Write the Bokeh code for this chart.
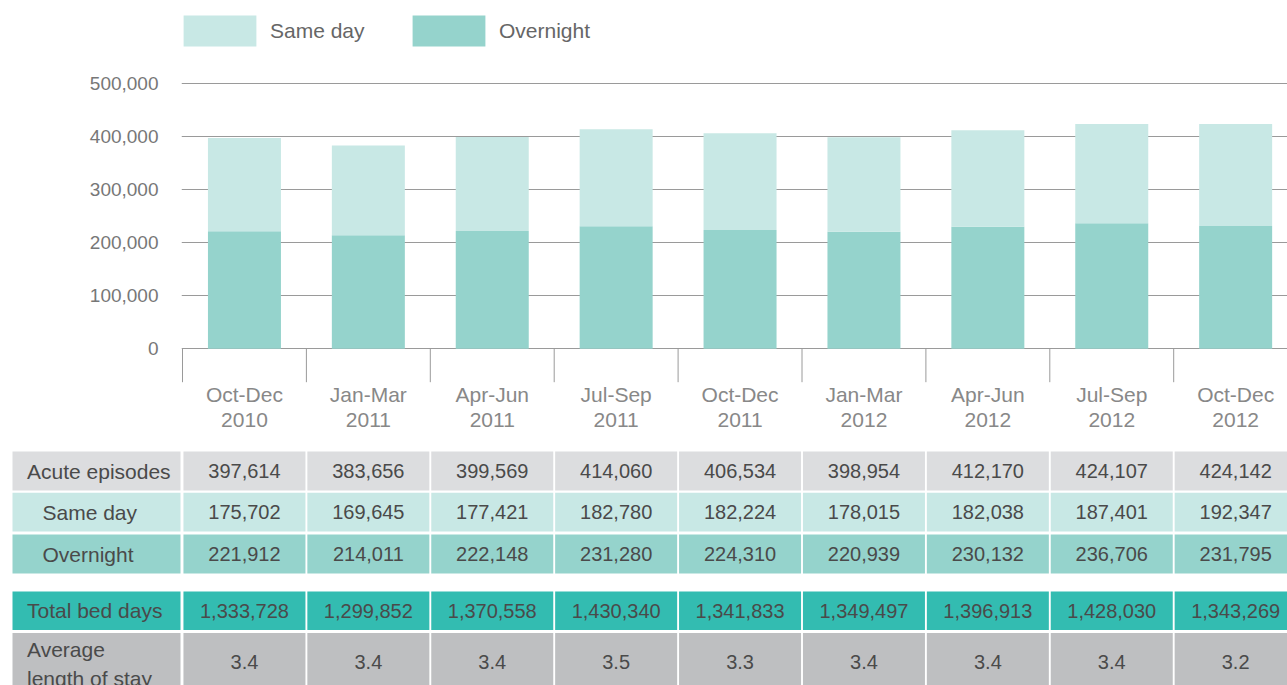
from bokeh.plotting import figure
from bokeh.models import Range1d, FixedTicker, NumeralTickFormatter, Legend, LegendItem, ColumnDataSource
from bokeh.embed import file_html
from bokeh.resources import INLINE
from bokeh.core.properties import value

# ---------------- data ----------------
quarters = ["Oct-Dec", "Jan-Mar", "Apr-Jun", "Jul-Sep", "Oct-Dec", "Jan-Mar", "Apr-Jun", "Jul-Sep", "Oct-Dec"]
years = ["2010", "2011", "2011", "2011", "2011", "2012", "2012", "2012", "2012"]
acute_episodes = [397614, 383656, 399569, 414060, 406534, 398954, 412170, 424107, 424142]
same_day = [175702, 169645, 177421, 182780, 182224, 178015, 182038, 187401, 192347]
overnight = [221912, 214011, 222148, 231280, 224310, 220939, 230132, 236706, 231795]
total_bed_days = [1333728, 1299852, 1370558, 1430340, 1341833, 1349497, 1396913, 1428030, 1343269]
avg_length_of_stay = [3.4, 3.4, 3.4, 3.5, 3.3, 3.4, 3.4, 3.4, 3.2]
y_ticks = [0, 100000, 200000, 300000, 400000, 500000]
row_labels = ["Acute episodes", "Same day", "Overnight", "Total bed days", "Average\nlength of stay"]

# ---------------- layout constants ----------------
FONT = value("Liberation Sans")
W, CH, TH = 1287, 440, 245
FRAME_LEFT = 181
X0_PX = 182.0          # pixel of first category boundary
CAT_PX = 123.9         # pixels per category
Y0_PX = 348.3          # pixel of y = 0
PX_PER_UNIT = 265.0 / 500000.0

C_SAME = "#c8e8e5"
C_OVER = "#95d3cc"

def ydata(px):
    return (Y0_PX - px) / PX_PER_UNIT

n = len(quarters)
xs = [i + 0.5 for i in range(n)]

# ---------------- chart ----------------
p = figure(width=W, height=CH,
           x_range=Range1d((FRAME_LEFT - X0_PX) / CAT_PX, (W - X0_PX) / CAT_PX),
           y_range=Range1d(ydata(CH), ydata(0)),
           output_backend="svg", toolbar_location=None, x_axis_location=None,
           min_border_left=FRAME_LEFT, min_border_right=0, min_border_top=0, min_border_bottom=0,
           outline_line_color=None, background_fill_color="white")

p.xgrid.visible = False
p.yaxis.ticker = FixedTicker(ticks=y_ticks)
p.yaxis.formatter = NumeralTickFormatter(format="0,0")
p.yaxis.axis_line_color = None
p.yaxis.major_tick_line_color = None
p.yaxis.minor_tick_line_color = None
p.yaxis.major_label_standoff = 17
p.yaxis.major_label_text_font_size = "19px"
p.yaxis.major_label_text_color = "#777777"
p.yaxis.major_label_text_font = "Liberation Sans"
p.ygrid.ticker = FixedTicker(ticks=y_ticks)
p.ygrid.grid_line_color = "#9a9a9a"

top_total = [o + s for o, s in zip(overnight, same_day)]
src = ColumnDataSource(dict(x=xs, overnight=overnight, top=top_total))
bw = 73.0 / CAT_PX
r_over = p.vbar(x="x", width=bw, bottom=0, top="overnight", source=src,
                fill_color=C_OVER, line_color=None)
r_same = p.vbar(x="x", width=bw, bottom="overnight", top="top", source=src,
                fill_color=C_SAME, line_color=None)

# category separators
bounds = list(range(n + 1))
p.segment(x0=bounds, y0=[0] * len(bounds), x1=bounds, y1=[ydata(381.7)] * len(bounds),
          line_color="#9a9a9a", line_width=1)

# category labels
p.text(x=xs, y=[ydata(394)] * n, text=quarters, text_align="center", text_baseline="middle",
       text_font=FONT, text_font_size="21px", text_color="#888888")
p.text(x=xs, y=[ydata(419)] * n, text=years, text_align="center", text_baseline="middle",
       text_font=FONT, text_font_size="21px", text_color="#888888")

legend = Legend(items=[LegendItem(label="Same day", renderers=[r_same]),
                       LegendItem(label="Overnight", renderers=[r_over])],
                orientation="horizontal", location=(-7, 390),
                glyph_width=91, glyph_height=39, label_standoff=5, label_width=120,
                label_height=39, spacing=13, padding=0, margin=0,
                border_line_color=None, background_fill_alpha=0,
                label_text_font_size="21px", label_text_color="#666666",
                label_text_font="Liberation Sans")
p.add_layout(legend)

# ---------------- table ----------------
t = figure(width=W, height=TH,
           x_range=Range1d(-X0_PX / CAT_PX, (W - X0_PX) / CAT_PX),
           y_range=Range1d(TH, 0),
           output_backend="svg", toolbar_location=None,
           x_axis_location=None, y_axis_location=None,
           min_border_left=0, min_border_right=0, min_border_top=0, min_border_bottom=0,
           outline_line_color=None, background_fill_color="white")
t.grid.visible = False

row_top = [11, 52.3, 94, 151, 192.5]
row_bot = [50, 91, 133, 189.5, 251]
row_col = ["#dcdddf", C_SAME, C_OVER, "#33bcb1", "#bebfc1"]
label_px = [26.5, 42, 42, 26.5, 26.5]
row_vals = [
    [f"{v:,}" for v in acute_episodes],
    [f"{v:,}" for v in same_day],
    [f"{v:,}" for v in overnight],
    [f"{v:,}" for v in total_bed_days],
    [f"{v:.1f}" for v in avg_length_of_stay],
]
text_col = "#4a4a4a"
half = 61.0 / CAT_PX

for r in range(len(row_labels)):
    top, bot = row_top[r], row_bot[r]
    # label cell
    t.quad(left=[(12 - X0_PX) / CAT_PX], right=[(180.0 - X0_PX) / CAT_PX],
           top=[top], bottom=[bot], fill_color=row_col[r], line_color=None)
    # value cells
    t.quad(left=[x - half for x in xs], right=[x + half for x in xs],
           top=[top] * n, bottom=[bot] * n, fill_color=row_col[r], line_color=None)
    yc = (top + bot) / 2.0
    ylab = yc + 2 if r == 4 else yc
    t.text(x=[(label_px[r] - X0_PX) / CAT_PX], y=[ylab], text=[row_labels[r]],
           text_align="left", text_baseline="middle", text_font=FONT,
           text_font_size="21px", text_color=text_col, text_line_height=1.25)
    t.text(x=xs, y=[yc] * n, text=row_vals[r], text_align="center", text_baseline="middle",
           text_font=FONT, text_font_size="20px", text_color=text_col)

open("out.html", "w").write(file_html([p, t], INLINE))
